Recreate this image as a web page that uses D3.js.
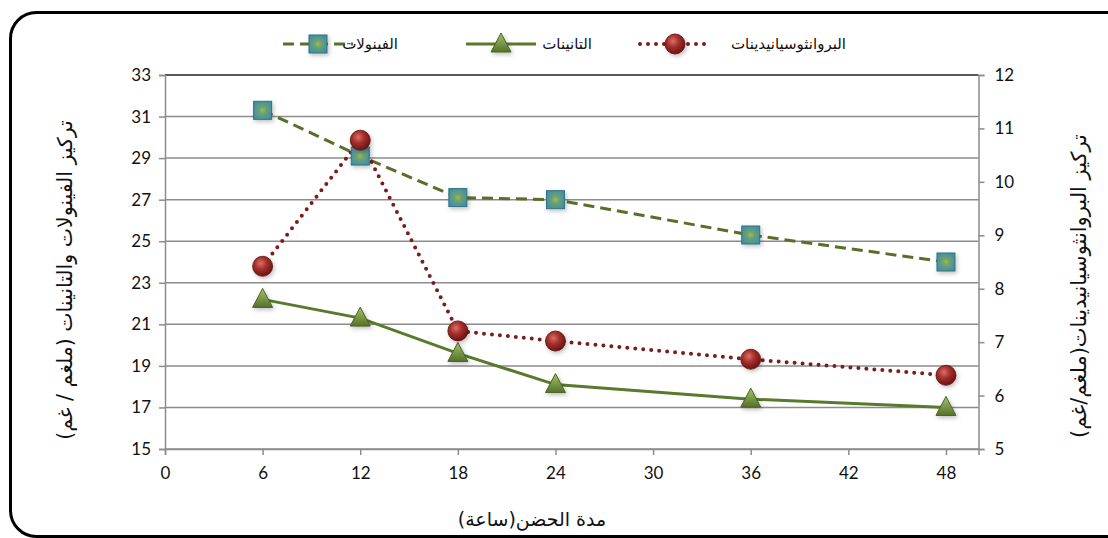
<!DOCTYPE html>
<html><head><meta charset="utf-8">
<script src="https://cdn.jsdelivr.net/npm/d3@7"></script>
<style>
body{margin:0;background:#fff;}
svg{display:block;}
.num{font-family:Lato,"Open Sans",sans-serif;font-size:17px;fill:#111;}
.ar{font-family:"DejaVu Sans",sans-serif;fill:#111;}
</style></head>
<body>
<svg id="c" width="1108" height="538"></svg>
<script>
const hours = [6, 12, 18, 24, 36, 48];
const phenols = [31.3, 29.1, 27.1, 27.0, 25.3, 24.0];
const tannins = [22.2, 21.3, 19.6, 18.1, 17.4, 17.0];
const proanth = [8.42, 10.78, 7.21, 7.02, 6.68, 6.38];
const xTicks = [0, 6, 12, 18, 24, 30, 36, 42, 48];
const yLeftTicks = [15, 17, 19, 21, 23, 25, 27, 29, 31, 33];
const yRightTicks = [5, 6, 7, 8, 9, 10, 11, 12];
const seriesNames = ["الفينولات", "التانينات", "البروانثوسيانيدينات"];
const xTitle = "مدة الحضن(ساعة)";
const yLeftTitle = "تركيز الفينولات والتانينات (ملغم / غم)";
const yRightTitle = "تركيز البروانثوسيانيدينات(ملغم/غم)";

const svg = d3.select("#c");
const L = 165, R = 978.5, T = 75, B = 449;
const x = d3.scaleLinear().domain([0, 50]).range([L, R]);
const yL = d3.scaleLinear().domain([15, 33]).range([B, T]);
const yR = d3.scaleLinear().domain([5, 12]).range([B, T]);

// defs
const defs = svg.append("defs");
const rg = defs.append("radialGradient").attr("id","gCirc").attr("cx","40%").attr("cy","35%").attr("r","65%");
rg.append("stop").attr("offset","0%").attr("stop-color","#d9706c");
rg.append("stop").attr("offset","45%").attr("stop-color","#a8302c");
rg.append("stop").attr("offset","100%").attr("stop-color","#6a1414");
const tg = defs.append("linearGradient").attr("id","gTri").attr("x1","0").attr("y1","0").attr("x2","0").attr("y2","1");
tg.append("stop").attr("offset","0%").attr("stop-color","#a6c46a");
tg.append("stop").attr("offset","100%").attr("stop-color","#55702a");
const sg = defs.append("radialGradient").attr("id","gSq").attr("cx","50%").attr("cy","50%").attr("r","60%");
sg.append("stop").attr("offset","0%").attr("stop-color","#9cbf3c");
sg.append("stop").attr("offset","35%").attr("stop-color","#6aa07a");
sg.append("stop").attr("offset","100%").attr("stop-color","#3f8ea3");
const sh = defs.append("filter").attr("id","shadow").attr("x","-50%").attr("y","-50%").attr("width","200%").attr("height","200%");
sh.append("feDropShadow").attr("dx",1.5).attr("dy",2).attr("stdDeviation",2).attr("flood-color","#000").attr("flood-opacity",0.25);

// frame
svg.append("rect").attr("x",10.5).attr("y",12.5).attr("width",1140).attr("height",524)
  .attr("rx",26).attr("fill","none").attr("stroke","#000").attr("stroke-width",3);

// gridlines
svg.append("g").selectAll("line").data(yLeftTicks).join("line")
  .attr("x1",L).attr("x2",R).attr("y1",d=>yL(d)).attr("y2",d=>yL(d))
  .attr("stroke",d=>d===33?"#222":"#8c8c8c").attr("stroke-width",1.5);

// axes
const axL = d3.axisLeft(yL).tickValues(yLeftTicks).tickSize(6).tickPadding(8);
const gL = svg.append("g").attr("transform",`translate(${L},0)`).call(axL);
const axR = d3.axisRight(yR).tickValues(yRightTicks).tickFormat(d3.format("d")).tickSize(6).tickPadding(10);
const gR = svg.append("g").attr("transform",`translate(${R},0)`).call(axR);
const axB = d3.axisBottom(x).tickValues(xTicks).tickSize(6).tickPadding(12);
const gB = svg.append("g").attr("transform",`translate(0,${B})`).call(axB);
[gL,gR,gB].forEach(g=>{
  g.select(".domain").attr("stroke","#8c8c8c").attr("stroke-width",1.5);
  g.selectAll(".tick line").attr("stroke","#8c8c8c").attr("stroke-width",1.5);
  g.selectAll(".tick text").attr("class","num").attr("font-family",null).attr("font-size",null);
});

// titles
svg.append("text").attr("class","ar").attr("font-size",19).attr("text-anchor","middle")
  .attr("x",532).attr("y",526).attr("direction","rtl").text(xTitle);
svg.append("text").attr("class","ar").attr("font-size",20.5).attr("text-anchor","middle")
  .attr("transform","translate(72,280) rotate(-90)").attr("direction","rtl").text(yLeftTitle);
svg.append("text").attr("class","ar").attr("font-size",21).attr("text-anchor","middle")
  .attr("transform","translate(1086,286) rotate(-90)").attr("direction","rtl").text(yRightTitle);

// series
const styles = [
  {vals: phenols, y: yL, color:"#56702a", dash:"11,6", cap:"butt", w:3, marker:"sq"},
  {vals: tannins, y: yL, color:"#587a2c", dash:null, cap:"butt", w:3, marker:"tri"},
  {vals: proanth, y: yR, color:"#7a1c1c", dash:"0,8", cap:"round", w:4, marker:"circ"}
];
function drawMarker(g, type, cx, cy){
  if(type==="sq"){
    g.append("rect").attr("x",cx-9).attr("y",cy-9).attr("width",18).attr("height",18)
      .attr("fill","url(#gSq)").attr("stroke","#2e7386").attr("stroke-width",1).attr("filter","url(#shadow)");
  } else if(type==="tri"){
    g.append("path").attr("d",`M${cx},${cy-11}L${cx+10},${cy+8}L${cx-10},${cy+8}Z`)
      .attr("fill","url(#gTri)").attr("stroke","#4a6324").attr("stroke-width",1).attr("filter","url(#shadow)");
  } else {
    g.append("circle").attr("cx",cx).attr("cy",cy).attr("r",10)
      .attr("fill","url(#gCirc)").attr("stroke","#5e1010").attr("stroke-width",0.8).attr("filter","url(#shadow)");
  }
}
styles.forEach(s=>{
  const line = d3.line().x((d,i)=>x(hours[i])).y(d=>s.y(d));
  svg.append("path").datum(s.vals).attr("d",line).attr("fill","none")
    .attr("stroke",s.color).attr("stroke-width",s.w).attr("stroke-dasharray",s.dash)
    .attr("stroke-linecap",s.cap);
});
styles.forEach(s=>{
  const g = svg.append("g");
  s.vals.forEach((v,i)=>drawMarker(g, s.marker, x(hours[i]), s.y(v)));
});

// legend
const legX = [{lx:283, tx:398}, {lx:466, tx:592}, {lx:640, tx:846}];
styles.forEach((s,i)=>{
  const g = svg.append("g");
  const x0 = legX[i].lx, x1 = x0+70, yy = 44;
  g.append("line").attr("x1",x0).attr("x2",x1).attr("y1",yy).attr("y2",yy)
    .attr("stroke",s.color).attr("stroke-width",s.w).attr("stroke-dasharray",s.dash).attr("stroke-linecap",s.cap);
  drawMarker(g, s.marker, (x0+x1)/2, yy);
  g.append("text").attr("class","ar").attr("font-size",15).attr("text-anchor","end")
    .attr("x",legX[i].tx).attr("y",yy+5).text(seriesNames[i]);
});
</script>
</body></html>
